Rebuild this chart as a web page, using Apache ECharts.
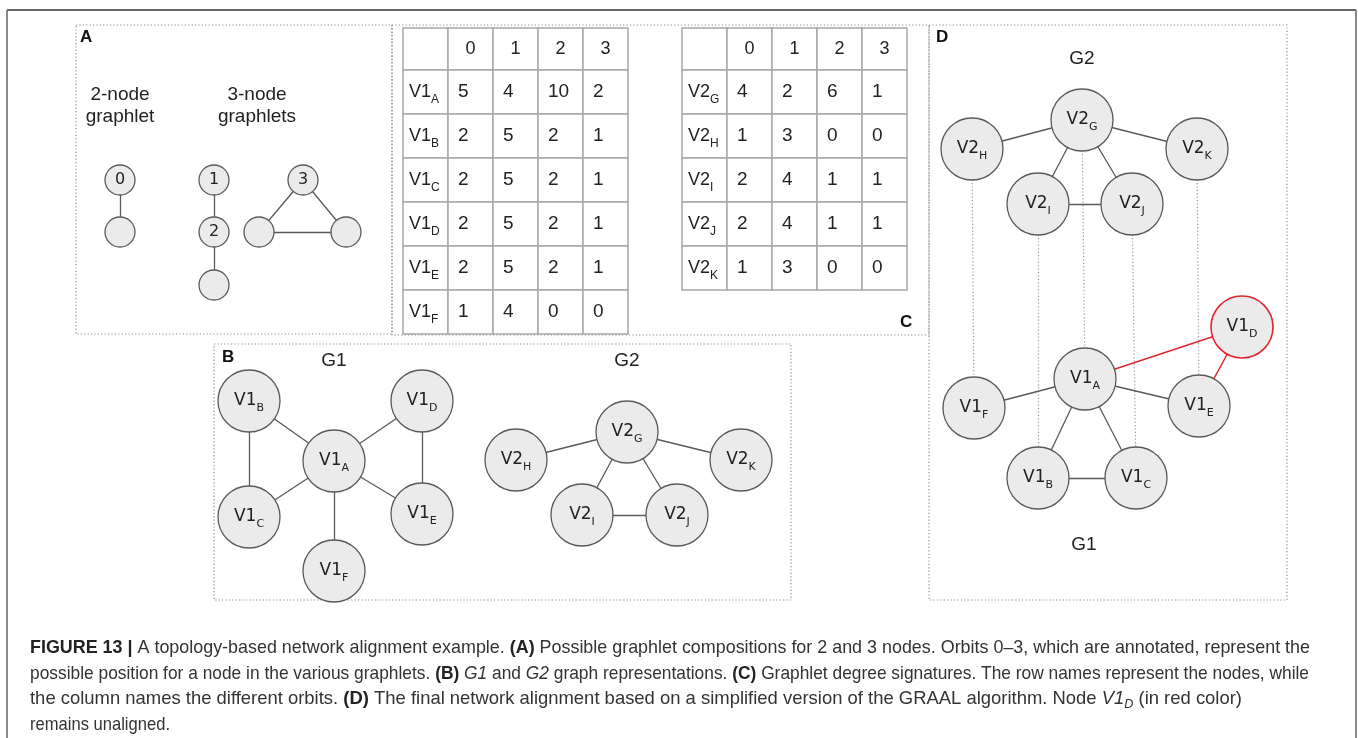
<!DOCTYPE html>
<html>
<head>
<meta charset="utf-8">
<title>Topology-based network alignment</title>
<script src="https://cdn.jsdelivr.net/npm/echarts@6/dist/echarts.min.js"></script>
<style>
  html, body { margin: 0; padding: 0; background: #fff; }
  #chart { width: 1358px; height: 738px; }
</style>
</head>
<body>
<div id="chart"></div>
<script>
  // ---- data ----
  // graphlet degree signatures (panel C), columns are orbits 0-3
  var orbitCols = ['0', '1', '2', '3'];
  var g1Names = ['A', 'B', 'C', 'D', 'E', 'F'];
  var g1Sig = [[5, 4, 10, 2], [2, 5, 2, 1], [2, 5, 2, 1], [2, 5, 2, 1], [2, 5, 2, 1], [1, 4, 0, 0]];
  var g2Names = ['G', 'H', 'I', 'J', 'K'];
  var g2Sig = [[4, 2, 6, 1], [1, 3, 0, 0], [2, 4, 1, 1], [2, 4, 1, 1], [1, 3, 0, 0]];

  // graph edges
  var g1Edges = [['A', 'B'], ['A', 'C'], ['A', 'D'], ['A', 'E'], ['A', 'F'], ['B', 'C'], ['D', 'E']];
  var g2Edges = [['G', 'H'], ['G', 'K'], ['G', 'I'], ['G', 'J'], ['I', 'J']];
  // final alignment G2 -> G1 (panel D)
  var alignment = [['H', 'F'], ['I', 'B'], ['G', 'A'], ['J', 'C'], ['K', 'E']];
  var unaligned = ['D'];

  // graphlets (panel A): orbit annotation per node, '' = not annotated
  var graphletOrbits = [['0', ''], ['1', '2', ''], ['3', '', '']];
  var graphletEdges = [[[0, 1]], [[0, 1], [1, 2]], [[0, 1], [0, 2], [1, 2]]];
  var graphletTitles = [['2-node', 'graphlet'], ['3-node', 'graphlets']];

  // caption, split in its 4 lines
  var captionLines = [
    [['b', 'FIGURE 13 |'], ['n', ' A topology-based network alignment example. '], ['b', '(A)'], ['n', ' Possible graphlet compositions for 2 and 3 nodes. Orbits 0\u20133, which are annotated, represent the']],
    [['n', 'possible position for a node in the various graphlets. '], ['b', '(B)'], ['n', ' '], ['i', 'G1'], ['n', ' and '], ['i', 'G2'], ['n', ' graph representations. '], ['b', '(C)'], ['n', ' Graphlet degree signatures. The row names represent the nodes, while']],
    [['n', 'the column names the different orbits. '], ['b', '(D)'], ['n', ' The final network alignment based on a simplified version of the GRAAL algorithm. Node '], ['i', 'V1'], ['isub', 'D'], ['n', ' (in red color)']],
    [['n', 'remains unaligned.']]
  ];

  // ---- layout (pixels) ----
  var layout = {
    graphlets: [[[120, 180], [120, 232]], [[214, 180], [214, 232], [214, 285]], [[303, 180], [259, 232], [346, 232]]],
    graphletTitleX: [120, 257],
    bG1: {A: [334, 461], B: [249, 401], C: [249, 517], D: [422, 401], E: [422, 514], F: [334, 571]},
    bG2: {G: [627, 432], H: [516, 460], I: [582, 515], J: [677, 515], K: [741, 460]},
    dG2: {G: [1082, 120], H: [972, 149], I: [1038, 204], J: [1132, 204], K: [1197, 149]},
    dG1: {A: [1085, 379], B: [1038, 478], C: [1136, 478], D: [1242, 327], E: [1199, 406], F: [974, 408]},
    tables: [{x: 403, y: 28}, {x: 682, y: 28}],
    cellW: 45, headH: 42, rowH: 44,
    captionX: 30, captionEnd: [1310, 1309, 1242, 170], captionY: [648, 674, 699, 725]
  };

  var SANS = '"Liberation Sans", Arial, sans-serif';
  var NODEFONT = '"DejaVu Sans", Verdana, sans-serif';
  var RED = '#e0262c';

  var nodeRich = {
    m: {fontSize: 17, fontFamily: NODEFONT, color: '#222', lineHeight: 26, verticalAlign: 'middle'},
    s: {fontSize: 11, fontFamily: NODEFONT, color: '#222', lineHeight: 10, verticalAlign: 'bottom'}
  };

  function graphSeries (prefix, names, edges, pos, redNodes) {
    redNodes = redNodes || [];
    return {
      type: 'graph',
      coordinateSystem: 'cartesian2d',
      layout: 'none',
      silent: true,
      z: 3,
      symbol: 'circle',
      symbolSize: 62,
      itemStyle: {color: '#ebebeb', borderColor: '#5a5a5a', borderWidth: 1.3},
      lineStyle: {color: '#5a5a5a', width: 1.3, opacity: 1, curveness: 0},
      label: {
        show: true,
        position: 'inside',
        formatter: function (p) {
          return '{m|' + prefix + '}{s|' + p.name + '}';
        },
        rich: nodeRich
      },
      emphasis: {disabled: true},
      data: names.map(function (n) {
        var item = {name: n, value: pos[n]};
        if (redNodes.indexOf(n) >= 0) {
          item.itemStyle = {borderColor: RED, borderWidth: 1.6};
        }
        return item;
      }),
      links: edges.map(function (e) {
        var link = {source: e[0], target: e[1]};
        if (redNodes.indexOf(e[0]) >= 0 || redNodes.indexOf(e[1]) >= 0) {
          link.lineStyle = {color: RED, width: 1.5};
        }
        return link;
      })
    };
  }

  // graphlets of panel A as one small graph
  var glNodes = [];
  var glLinks = [];
  graphletOrbits.forEach(function (g, gi) {
    g.forEach(function (orbit, ni) {
      glNodes.push({name: gi + '-' + ni, value: layout.graphlets[gi][ni], label: {formatter: orbit}});
    });
    graphletEdges[gi].forEach(function (e) {
      glLinks.push({source: gi + '-' + e[0], target: gi + '-' + e[1]});
    });
  });

  // table cells: [tableIndex, col, row]
  var tables = [{names: g1Names, sig: g1Sig, prefix: 'V1'}, {names: g2Names, sig: g2Sig, prefix: 'V2'}];
  var tableCells = [];
  tables.forEach(function (t, ti) {
    for (var r = 0; r <= t.names.length; r++) {
      for (var c = 0; c <= orbitCols.length; c++) {
        tableCells.push([ti, c, r]);
      }
    }
  });

  function renderCell (params, api) {
    var ti = api.value(0);
    var c = api.value(1);
    var r = api.value(2);
    var t = tables[ti];
    var org = layout.tables[ti];
    var x0 = org.x + c * layout.cellW;
    var y0 = r === 0 ? org.y : org.y + layout.headH + (r - 1) * layout.rowH;
    var h = r === 0 ? layout.headH : layout.rowH;
    var p0 = api.coord([x0, y0]);
    var p1 = api.coord([x0 + layout.cellW, y0 + h]);
    var text = '';
    var align = 'left';
    var tx = p0[0] + 10;
    if (r === 0 && c > 0) {
      text = orbitCols[c - 1];
      align = 'center';
      tx = (p0[0] + p1[0]) / 2;
    } else if (r > 0 && c === 0) {
      text = '{m|' + t.prefix + '}{s|' + t.names[r - 1] + '}';
      tx = p0[0] + 6;
    } else if (r > 0) {
      text = String(t.sig[r - 1][c - 1]);
    }
    return {
      type: 'group',
      children: [{
        type: 'rect',
        shape: {x: p0[0], y: p0[1], width: p1[0] - p0[0], height: p1[1] - p0[1]},
        style: {fill: '#fff', stroke: '#a8a8a8', lineWidth: 1.5}
      }, {
        type: 'text',
        style: {
          text: text,
          x: tx,
          y: (p0[1] + p1[1]) / 2,
          align: align,
          verticalAlign: 'middle',
          fill: '#222',
          fontSize: r === 0 ? 18 : 19,
          fontFamily: SANS,
          rich: {
            m: {fontSize: 18, fontFamily: SANS, fill: '#222', lineHeight: 28, verticalAlign: 'middle'},
            s: {fontSize: 12, fontFamily: SANS, fill: '#222', lineHeight: 11, verticalAlign: 'bottom'}
          }
        }
      }]
    };
  }

  // caption: the original font is a condensed face, so each line is squeezed to its length
  var capFonts = {
    n: {fontSize: 19, fontFamily: SANS, fill: '#333'},
    b: {fontSize: 19, fontFamily: SANS, fontWeight: 'bold', fill: '#222'},
    i: {fontSize: 19, fontFamily: SANS, fontStyle: 'italic', fill: '#333'},
    isub: {fontSize: 13, fontFamily: SANS, fontStyle: 'italic', fill: '#333', lineHeight: 12, verticalAlign: 'bottom'}
  };
  var ctx = document.createElement('canvas').getContext('2d');
  function segWidth (seg) {
    var f = capFonts[seg[0]];
    ctx.font = (f.fontStyle || '') + ' ' + (f.fontWeight || '') + ' ' + f.fontSize + 'px ' + f.fontFamily;
    return ctx.measureText(seg[1]).width;
  }
  var capRich = {};
  Object.keys(capFonts).forEach(function (k) {
    capRich[k] = Object.assign({lineHeight: 24, verticalAlign: 'middle'}, capFonts[k]);
  });
  var captionGraphics = captionLines.map(function (line, li) {
    var w = 0;
    line.forEach(function (s) { w += segWidth(s); });
    return {
      type: 'text',
      x: layout.captionX,
      y: layout.captionY[li],
      scaleX: (layout.captionEnd[li] - layout.captionX) / w,
      style: {
        text: line.map(function (s) { return '{' + s[0] + '|' + s[1] + '}'; }).join(''),
        rich: capRich,
        verticalAlign: 'middle',
        fontSize: 19,
        fontFamily: SANS
      }
    };
  });

  function dottedBox (x, y, w, h) {
    return {
      type: 'rect',
      shape: {x: x, y: y, width: w, height: h},
      style: {fill: 'none', stroke: '#8c8c8c', lineWidth: 1.2, lineDash: [1.2, 2.2]},
      z: 0
    };
  }
  function label (text, x, y, opts) {
    return {
      type: 'text',
      x: x,
      y: y,
      style: Object.assign({
        text: text,
        fontSize: 19,
        fontFamily: SANS,
        fill: '#222',
        align: 'center',
        verticalAlign: 'middle'
      }, opts || {})
    };
  }
  var bold = {fontWeight: 'bold', fontSize: 17, align: 'left', fill: '#111'};

  var graphics = [
    {type: 'line', shape: {x1: 7, y1: 10, x2: 1356, y2: 10}, style: {stroke: '#333', lineWidth: 1.6}},
    {type: 'line', shape: {x1: 7, y1: 10, x2: 7, y2: 738}, style: {stroke: '#8a8a8a', lineWidth: 2}},
    {type: 'line', shape: {x1: 1356, y1: 10, x2: 1356, y2: 738}, style: {stroke: '#8a8a8a', lineWidth: 2}},
    dottedBox(76, 25, 316, 309),
    dottedBox(392, 25, 537, 310),
    dottedBox(929, 25, 358, 575),
    dottedBox(214, 344, 577, 256),
    label('A', 80, 37, bold),
    label('B', 222, 357, bold),
    label('C', 900, 322, bold),
    label('D', 936, 37, bold),
    label('G1', 334, 361),
    label('G2', 627, 361),
    label('G2', 1082, 59),
    label('G1', 1084, 545)
  ];
  graphletTitles.forEach(function (t, i) {
    graphics.push(label(t[0], layout.graphletTitleX[i], 95));
    graphics.push(label(t[1], layout.graphletTitleX[i], 117));
  });
  graphics = graphics.concat(captionGraphics);

  var chart = echarts.init(document.getElementById('chart'));
  chart.setOption({
    animation: false,
    grid: {left: 0, right: 0, top: 0, bottom: 0},
    xAxis: {type: 'value', min: 0, max: 1358, show: false},
    yAxis: {type: 'value', min: 0, max: 738, inverse: true, show: false},
    graphic: {elements: graphics},
    series: [
      {
        type: 'graph',
        coordinateSystem: 'cartesian2d',
        layout: 'none',
        silent: true,
        z: 3,
        symbol: 'circle',
        symbolSize: 30,
        itemStyle: {color: '#ebebeb', borderColor: '#5a5a5a', borderWidth: 1.3},
        lineStyle: {color: '#5a5a5a', width: 1.3, opacity: 1},
        label: {show: true, position: 'inside', fontSize: 16, fontFamily: NODEFONT, color: '#222'},
        emphasis: {disabled: true},
        data: glNodes,
        links: glLinks
      },
      {
        type: 'custom',
        coordinateSystem: 'cartesian2d',
        silent: true,
        z: 2,
        renderItem: renderCell,
        data: tableCells
      },
      graphSeries('V1', g1Names, g1Edges, layout.bG1),
      graphSeries('V2', g2Names, g2Edges, layout.bG2),
      graphSeries('V2', g2Names, g2Edges, layout.dG2),
      graphSeries('V1', g1Names, g1Edges, layout.dG1, unaligned),
      {
        type: 'lines',
        coordinateSystem: 'cartesian2d',
        silent: true,
        z: 1,
        lineStyle: {color: '#9a9a9a', width: 1.2, type: [1.2, 2.2], opacity: 1},
        data: alignment.map(function (p) {
          return {coords: [layout.dG2[p[0]], layout.dG1[p[1]]]};
        })
      }
    ]
  });
</script>
</body>
</html>
